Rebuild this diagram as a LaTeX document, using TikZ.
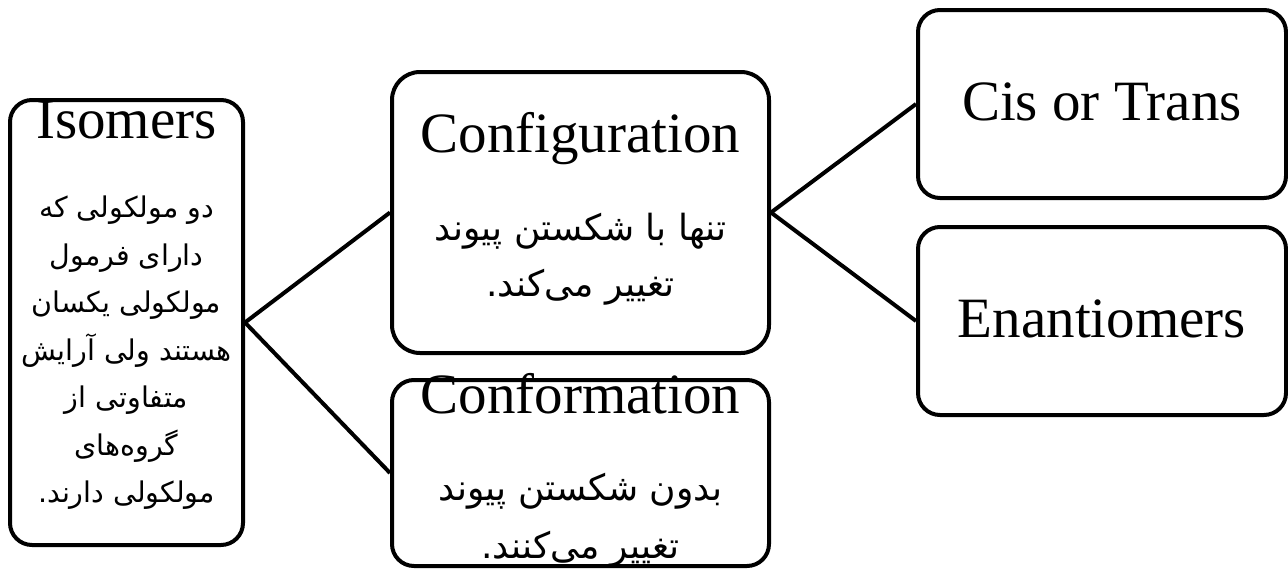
\documentclass[tikz,border=0pt]{standalone}
\usepackage{fontspec}
\setmainfont{Liberation Serif}
\newfontfamily\farsi[Script=Arabic]{DejaVu Sans}
\TeXXeTstate=1
\newcommand{\rl}[1]{\beginR #1\endR}
\tikzset{
  box/.style={draw, line width=4pt, rounded corners=22pt, inner sep=0pt},
  title/.style={font=\fontsize{57}{60}\selectfont, anchor=base, inner sep=0pt},
  fa/.style={align=center, inner sep=0pt},
  link/.style={line width=4pt}
}
\begin{document}
\begin{tikzpicture}[x=1pt,y=-1pt]
        \useasboundingbox (0,0) rectangle (1288,568);
        \node [box, minimum width=233pt, minimum height=445pt] (iso) at (126.5,322.5) {};
        \node [box, minimum width=377pt, minimum height=281pt, rounded corners=28pt] (config) at (580.5,212.5) {};
        \node [box, minimum width=377pt, minimum height=186pt] (conform) at (580.5,473) {};
        \node [box, minimum width=368pt, minimum height=188pt] (cistrans) at (1102,104) {};
        \node [box, minimum width=368pt, minimum height=188pt] (enantio) at (1102,321) {};

        \draw [link] (iso.east) -- (config.west);
        \draw [link] (iso.east) -- (conform.west);
        \draw [link] (config.east) -- (cistrans.west);
        \draw [link] (config.east) -- (enantio.west);

        \node [title] (isoT) at (126.5,138) {Isomers};
        \node [fa, font=\farsi\fontsize{28.5}{47.5}\selectfont] (isoD) at (126.5,353)
              {\rl{دو مولکولی که}\\ \rl{دارای فرمول}\\ \rl{مولکولی یکسان}\\ \rl{هستند ولی آرایش}\\
               \rl{متفاوتی از}\\ \rl{گروه‌های}\\ \rl{مولکولی دارند.}};
        \node [title] (configT) at (580.5,152) {Configuration};
        \node [fa, font=\farsi\fontsize{36}{56}\selectfont] (configD) at (580.5,259)
              {\rl{تنها با شکستن پیوند}\\ \rl{تغییر می‌کند.}};
        \node [title] (conformT) at (580.5,413) {Conformation};
        \node [fa, font=\farsi\fontsize{36}{58}\selectfont] (conformD) at (580.5,520)
              {\rl{بدون شکستن پیوند}\\ \rl{تغییر می‌کنند.}};
        \node [title] (cistransT) at (1102,120) {Cis or Trans};
        \node [title] (enantioT) at (1102,337) {Enantiomers};
\end{tikzpicture}
\end{document}
